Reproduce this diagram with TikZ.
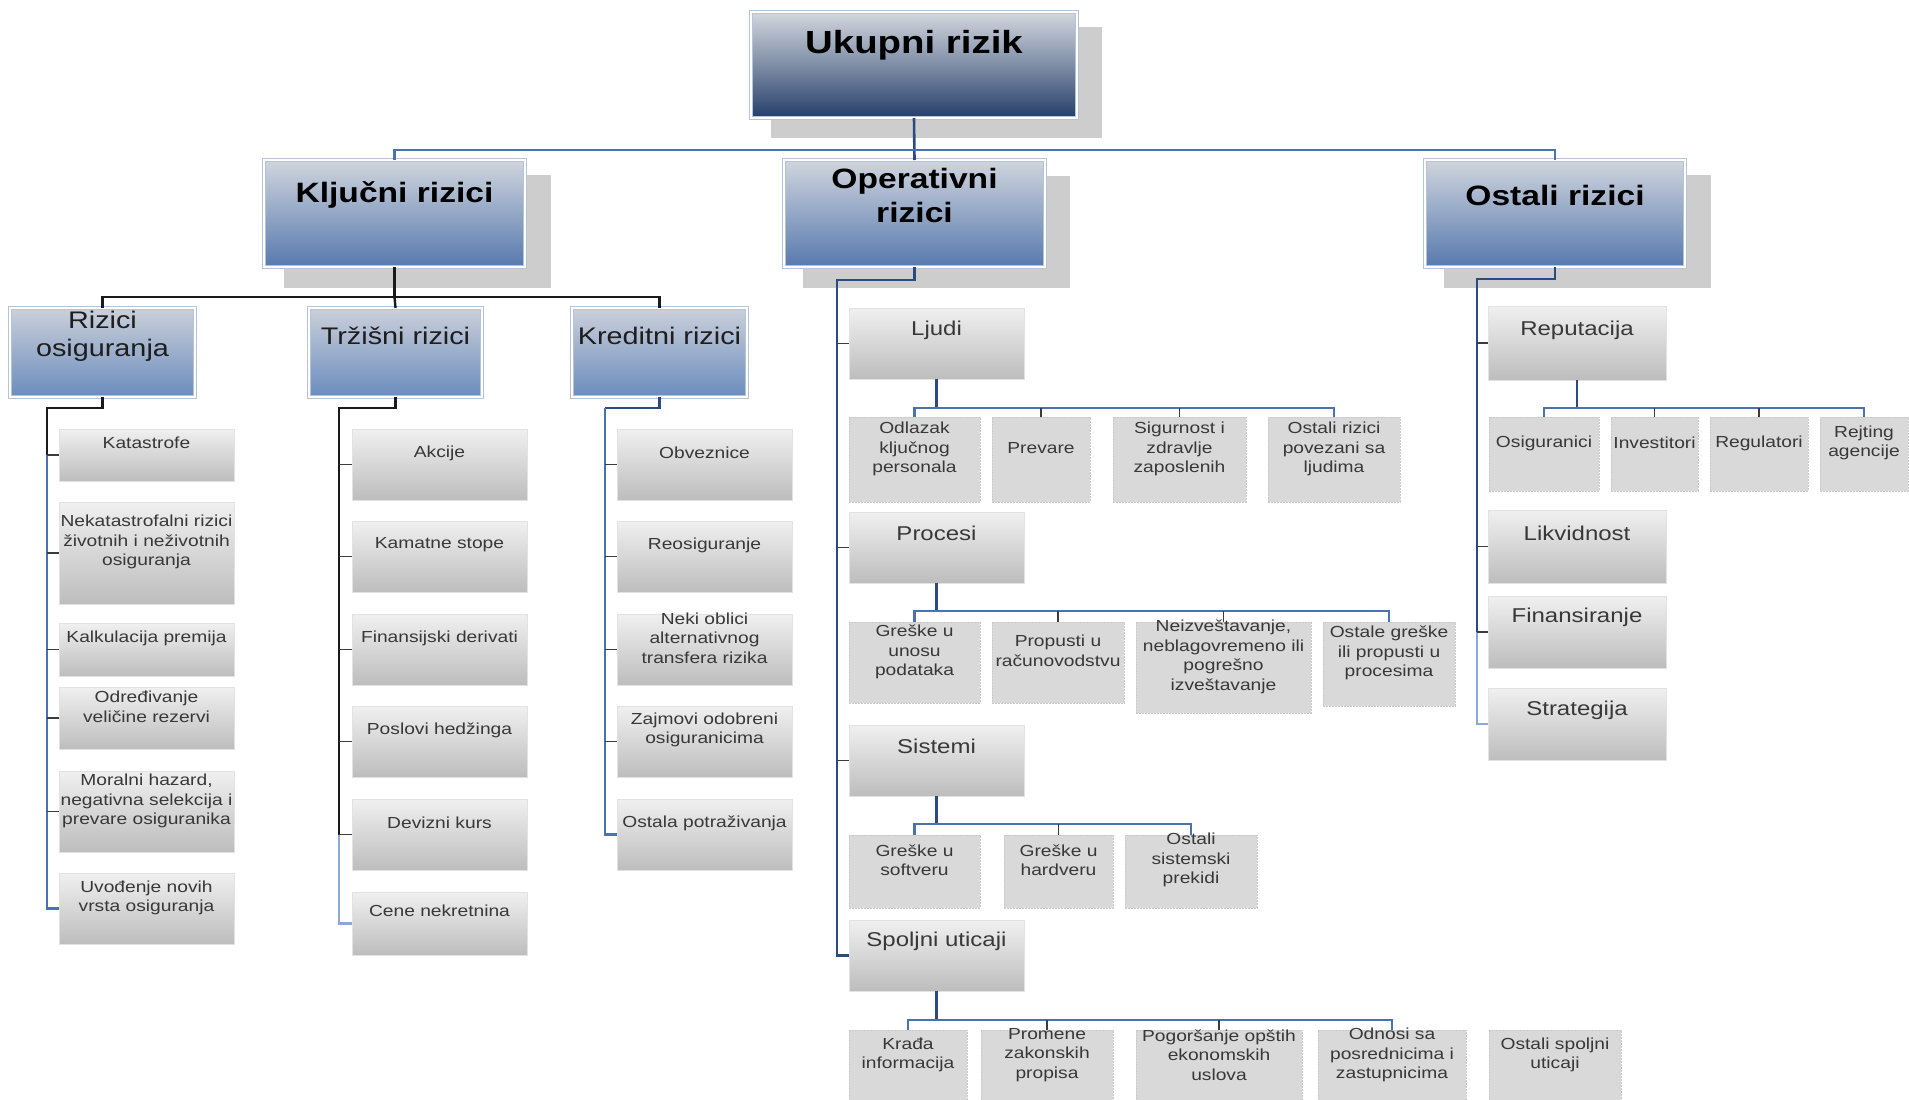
\documentclass[tikz,border=0pt]{standalone}
\usepackage{fontspec}
\setmainfont{Liberation Sans}[FakeStretch=1.2]
\usetikzlibrary{calc}
\definecolor{czerotop}{HTML}{D3D7DE}
\definecolor{czeromid}{HTML}{7E8DA6}
\definecolor{czerobot}{HTML}{243E69}
\definecolor{conetop}{HTML}{D0D5DD}
\definecolor{conebot}{HTML}{5679AE}
\definecolor{ctwotop}{HTML}{CBD0DA}
\definecolor{ctwobot}{HTML}{6A8CBE}
\definecolor{bedge}{HTML}{B6C4DA}
\definecolor{gtop}{HTML}{F0F0F0}
\definecolor{gbot}{HTML}{BDBDBD}
\definecolor{gedge}{HTML}{E2E2E2}
\definecolor{flatc}{HTML}{D9D9D9}
\definecolor{fedge}{HTML}{CACACA}
\definecolor{shadec}{HTML}{CDCDCD}
\definecolor{tdark}{HTML}{1E1E1E}
\definecolor{tgray}{HTML}{383838}
\definecolor{cnavy}{HTML}{2B4B80}
\definecolor{cblue}{HTML}{4A72B0}
\definecolor{clight}{HTML}{8CA8D4}
\definecolor{cblack}{HTML}{1A1A1A}
\definecolor{tickc}{HTML}{3C3C3C}
\newcommand\mkbox[9]{%
  \pgfmathsetmacro\mkbw{#6-#4}%
  \pgfmathsetmacro\mkbh{#7-#5}%
  \pgfmathsetmacro\mkbx{(#4+#6)/2}%
  \node[#2, minimum width=\mkbw pt, minimum height=\mkbh pt, anchor=north west] (#1) at (#4,#5) {};%
  \node[#3] (#1-t) at (\mkbx,#8) {#9};%
}
\begin{document}
\begin{tikzpicture}[x=1pt,y=-1pt,
  every node/.style={inner sep=0pt, outer sep=0pt},
  lzero/.style={rectangle, top color=czerotop, bottom color=czerobot, middle color=czeromid, draw=bedge, line width=0.8pt, double=white, double distance=1.6pt},
  lone/.style={rectangle, top color=conetop, bottom color=conebot, draw=bedge, line width=0.8pt, double=white, double distance=1.6pt},
  ltwo/.style={rectangle, top color=ctwotop, bottom color=ctwobot, draw=bedge, line width=0.8pt, double=white, double distance=1.6pt},
  colbox/.style={rectangle, top color=gtop, bottom color=gbot, draw=gedge, line width=0.6pt},
  flatbox/.style={rectangle, fill=flatc, draw=fedge, line width=0.7pt, dash pattern=on 2pt off 1pt},
  shadowbox/.style={fill=shadec},
  tzero/.style={font={\fontsize{32}{38}\selectfont\bfseries}, text=black, align=center},
  tone/.style={font={\fontsize{28}{34}\selectfont\bfseries}, text=black, align=center},
  ttwo/.style={font={\fontsize{24}{28}\selectfont}, text=tdark, align=center},
  tmid/.style={font={\fontsize{20}{24}\selectfont}, text=tgray, align=center},
  tleaf/.style={font={\fontsize{16}{19.5}\selectfont}, text=tgray, align=center},
  spn/.style={draw=cnavy, line width=2.6pt},
  topl/.style={draw=cblue, line width=2.4pt},
  blk/.style={draw=cblack, line width=2.4pt},
  blu/.style={draw=cblue, line width=2.2pt},
  lblu/.style={draw=clight, line width=2.2pt},
  brc/.style={draw=cblue, line width=2.2pt},
  stemc/.style={draw=cnavy, line width=2.8pt},
  tck/.style={draw=tickc, line width=1.8pt}
]
\fill[white] (0,0) rectangle (1909,1100);
\useasboundingbox (0,0) rectangle (1909,1100);

% shadows
\fill[shadowbox] (771,27) rectangle (1102,138);
\fill[shadowbox] (284,175) rectangle (551,288);
\fill[shadowbox] (803,176) rectangle (1070,288);
\fill[shadowbox] (1444,175) rectangle (1711,288);

% level 0 and 1
\mkbox{uk}{lzero}{tzero}{751}{12}{1077}{118}{45}{Ukupni rizik}
\mkbox{klj}{lone}{tone}{264}{160}{525}{267}{195}{Ključni rizici}
\mkbox{ope}{lone}{tone}{784}{160}{1045}{267}{195}{Operativni\\rizici}
\mkbox{ost}{lone}{tone}{1425}{160}{1685}{267}{195}{Ostali rizici}

% level 2
\mkbox{rizos}{ltwo}{ttwo}{10}{308}{195}{397}{336}{Rizici\\osiguranja}
\mkbox{trz}{ltwo}{ttwo}{309}{308}{482}{397}{336}{Tržišni rizici}
\mkbox{kre}{ltwo}{ttwo}{572}{308}{747}{397}{336}{Kreditni rizici}

% Rizici osiguranja column
\mkbox{kat}{colbox}{tleaf}{59}{429}{234}{481}{443}{Katastrofe}
\mkbox{nek}{colbox}{tleaf}{59}{502}{234}{604}{542}{Nekatastrofalni rizici\\životnih i neživotnih\\osiguranja}
\mkbox{kal}{colbox}{tleaf}{59}{623}{234}{676}{638}{Kalkulacija premija}
\mkbox{odr}{colbox}{tleaf}{59}{687}{234}{749}{707}{Određivanje\\veličine rezervi}
\mkbox{mor}{colbox}{tleaf}{59}{771}{234}{852}{801}{Moralni hazard,\\negativna selekcija i\\prevare osiguranika}
\mkbox{uvo}{colbox}{tleaf}{59}{873}{234}{944}{898}{Uvođenje novih\\vrsta osiguranja}

% Trzisni column
\mkbox{akc}{colbox}{tleaf}{352}{429}{527}{500}{453}{Akcije}
\mkbox{kam}{colbox}{tleaf}{352}{521}{527}{592}{545}{Kamatne stope}
\mkbox{fin}{colbox}{tleaf}{352}{614}{527}{685}{638}{Finansijski derivati}
\mkbox{pos}{colbox}{tleaf}{352}{706}{527}{777}{730}{Poslovi hedžinga}
\mkbox{dev}{colbox}{tleaf}{352}{799}{527}{870}{823}{Devizni kurs}
\mkbox{cen}{colbox}{tleaf}{352}{892}{527}{955}{911}{Cene nekretnina}

% Kreditni column
\mkbox{obv}{colbox}{tleaf}{617}{429}{792}{500}{453}{Obveznice}
\mkbox{reo}{colbox}{tleaf}{617}{521}{792}{592}{545}{Reosiguranje}
\mkbox{nki}{colbox}{tleaf}{617}{614}{792}{685}{638}{Neki oblici\\alternativnog\\transfera rizika}
\mkbox{zaj}{colbox}{tleaf}{617}{706}{792}{777}{730}{Zajmovi odobreni\\osiguranicima}
\mkbox{opt}{colbox}{tleaf}{617}{799}{792}{870}{823}{Ostala potraživanja}

% Operativni column
\mkbox{ljudi}{colbox}{tmid}{849}{308}{1024}{379}{330}{Ljudi}
\mkbox{odl}{flatbox}{tleaf}{849}{417}{980}{502}{449}{Odlazak\\ključnog\\personala}
\mkbox{pre}{flatbox}{tleaf}{992}{417}{1090}{502}{448}{Prevare}
\mkbox{sig}{flatbox}{tleaf}{1113}{417}{1246}{502}{449}{Sigurnost i\\zdravlje\\zaposlenih}
\mkbox{orl}{flatbox}{tleaf}{1268}{417}{1400}{502}{449}{Ostali rizici\\povezani sa\\ljudima}
\mkbox{procesi}{colbox}{tmid}{849}{512}{1024}{583}{533}{Procesi}
\mkbox{gun}{flatbox}{tleaf}{849}{622}{980}{703}{652}{Greške u\\unosu\\podataka}
\mkbox{prp}{flatbox}{tleaf}{992}{622}{1124}{703}{651}{Propusti u\\računovodstvu}
\mkbox{nei}{flatbox}{tleaf}{1136}{622}{1311}{713}{657}{Neizveštavanje,\\neblagovremeno ili\\pogrešno\\izveštavanje}
\mkbox{ogr}{flatbox}{tleaf}{1323}{622}{1455}{706}{653}{Ostale greške\\ili propusti u\\procesima}
\mkbox{sistemi}{colbox}{tmid}{849}{725}{1024}{796}{746}{Sistemi}
\mkbox{gso}{flatbox}{tleaf}{849}{835}{980}{908}{860}{Greške u\\softveru}
\mkbox{gha}{flatbox}{tleaf}{1004}{835}{1113}{908}{860}{Greške u\\hardveru}
\mkbox{ospr}{flatbox}{tleaf}{1125}{835}{1257}{908}{860}{Ostali\\sistemski\\prekidi}
\mkbox{spoljni}{colbox}{tmid}{849}{920}{1024}{991}{941}{Spoljni uticaji}
\mkbox{kra}{flatbox}{tleaf}{849}{1030}{967}{1102}{1055}{Krađa\\informacija}
\mkbox{prm}{flatbox}{tleaf}{981}{1030}{1113}{1102}{1055}{Promene\\zakonskih\\propisa}
\mkbox{pog}{flatbox}{tleaf}{1136}{1030}{1302}{1102}{1055}{Pogoršanje opštih\\ekonomskih\\uslova}
\mkbox{odn}{flatbox}{tleaf}{1318}{1030}{1466}{1102}{1055}{Odnosi sa\\posrednicima i\\zastupnicima}
\mkbox{osu}{flatbox}{tleaf}{1489}{1030}{1621}{1102}{1055}{Ostali spoljni\\uticaji}

% Ostali column
\mkbox{rep}{colbox}{tmid}{1488}{306}{1666}{380}{330}{Reputacija}
\mkbox{osg}{flatbox}{tleaf}{1489}{417}{1599}{491}{443}{Osiguranici}
\mkbox{inv}{flatbox}{tleaf}{1611}{417}{1698}{491}{443}{Investitori}
\mkbox{reg}{flatbox}{tleaf}{1710}{417}{1808}{491}{443}{Regulatori}
\mkbox{rej}{flatbox}{tleaf}{1820}{417}{1908}{491}{443}{Rejting\\agencije}
\mkbox{lik}{colbox}{tmid}{1488}{510}{1666}{583}{533}{Likvidnost}
\mkbox{fnn}{colbox}{tmid}{1488}{596}{1666}{668}{617}{Finansiranje}
\mkbox{str}{colbox}{tmid}{1488}{688}{1666}{760}{710}{Strategija}

% ---- connectors ----
\coordinate (ukB) at (914,150);
\draw[spn] (uk.south) -- (ope.north);
\draw[topl] (klj.north) |- (ukB) -| (ost.north);

\coordinate (kljB) at ($(klj.south)+(0,30)$);
\draw[blk] (klj.south) -- (kljB);
\draw[blk] (rizos.north) |- (kljB) -| (kre.north);
\draw[blk] (kljB) -- (trz.north);

\coordinate (rizE) at (47,408);
\draw[blk] (rizos.south) |- (rizE) -- (rizE |- kat.west);
\draw[blu] (rizE |- kat.west) -- (rizE |- uvo.west) -- (uvo.west);
\foreach \n in {kat,nek,kal,odr,mor} \draw[tck] (rizE |- \n.west) -- (\n.west);

\coordinate (trzE) at (339,408);
\draw[blk] (trz.south) |- (trzE) -- (trzE |- dev.west);
\draw[lblu] (trzE |- dev.west) -- (trzE |- cen.west) -- (cen.west);
\foreach \n in {akc,kam,fin,pos,dev} \draw[tck] (trzE |- \n.west) -- (\n.west);

\coordinate (kreE) at (605,408);
\draw[spn] (kre.south) |- (kreE);
\draw[blu] (kreE) -- (kreE |- opt.west) -- (opt.west);
\foreach \n in {obv,reo,nki,zaj} \draw[tck] (kreE |- \n.west) -- (\n.west);

\coordinate (opeE) at (837,280);
\draw[spn] (ope.south) |- (opeE) -- (opeE |- spoljni.west) -- (spoljni.west);
\foreach \n in {ljudi,procesi,sistemi} \draw[tck] (opeE |- \n.west) -- (\n.west);

\coordinate (ljB) at ($(ljudi.south)+(0,29)$);
\draw[stemc] (ljudi.south) -- (ljB);
\draw[brc] (odl.north) |- (ljB) -| (orl.north);
\foreach \n in {pre,sig} \draw[tck] (ljB -| \n.north) -- (\n.north);

\coordinate (prB) at ($(procesi.south)+(0,28)$);
\draw[stemc] (procesi.south) -- (prB);
\draw[brc] (gun.north) |- (prB) -| (ogr.north);
\foreach \n in {prp,nei} \draw[tck] (prB -| \n.north) -- (\n.north);

\coordinate (siB) at ($(sistemi.south)+(0,28)$);
\draw[stemc] (sistemi.south) -- (siB);
\draw[brc] (gso.north) |- (siB) -| (ospr.north);
\draw[tck] (siB -| gha.north) -- (gha.north);

\coordinate (spB) at ($(spoljni.south)+(0,29)$);
\draw[stemc] (spoljni.south) -- (spB);
\draw[brc] (kra.north) |- (spB) -| (odn.north);
\foreach \n in {prm,pog} \draw[tck] (spB -| \n.north) -- (\n.north);

\coordinate (ostE) at (1477,279);
\draw[spn] (ost.south) |- (ostE) -- (ostE |- fnn.west);
\draw[lblu] (ostE |- fnn.west) -- (ostE |- str.west) -- (str.west);
\foreach \n in {rep,lik,fnn} \draw[tck] (ostE |- \n.west) -- (\n.west);

\coordinate (reB) at ($(rep.south)+(0,28)$);
\draw[stemc] (rep.south) -- (reB);
\draw[brc] (osg.north) |- (reB) -| (rej.north);
\foreach \n in {inv,reg} \draw[tck] (reB -| \n.north) -- (\n.north);
\end{tikzpicture}
\end{document}
